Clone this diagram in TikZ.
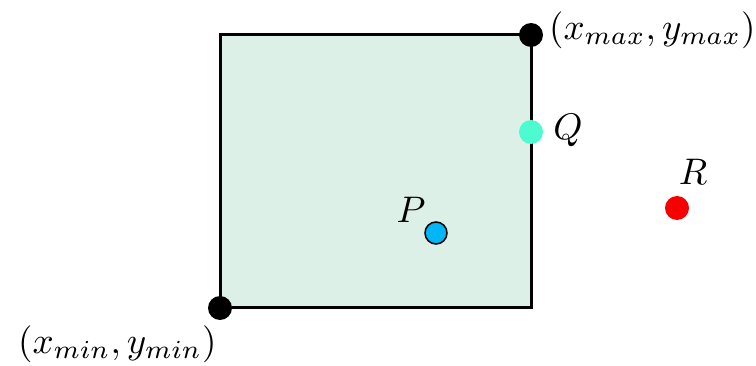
\documentclass[tikz,border=0pt]{standalone}
\usepackage{graphicx}
\usepackage{tikz}
\usetikzlibrary{positioning}
\definecolor{boxgreen}{HTML}{DDF0E7}
\definecolor{qgreen}{HTML}{4CFCD0}
\definecolor{pblue}{HTML}{00B6F4}
\definecolor{rred}{HTML}{F80000}
\newcommand{\biglbl}[1]{\scalebox{3.7}{$#1$}}
\tikzset{
  dot/.style={circle,inner sep=0pt,minimum size=24pt},
  lbl/.style={inner sep=0pt}
}
\begin{document}
\begin{tikzpicture}[x=1pt,y=-1pt]
\useasboundingbox (0,0) rectangle (756,366);
\draw[fill=boxgreen,line width=3pt] (220,35) rectangle (531,308);
\node[dot,fill=black] (pmin) at (220,308) {};
\node[dot,fill=black] (pmax) at (531,35) {};
\node[dot,fill=qgreen] (q) at (531,132) {};
\node[dot,fill=pblue,draw=black,line width=1.5pt,minimum size=22pt] (p) at (436,233) {};
\node[dot,fill=rred] (r) at (677,208) {};
\node[lbl,anchor=west] (lmax) at (549,30) {\biglbl{(x_{max},y_{max})}};
\node[lbl,anchor=west] (lmin) at (18,344) {\biglbl{(x_{min},y_{min})}};
\node[lbl] (lq) at (568,130) {\biglbl{Q}};
\node[lbl] (lp) at (411,210) {\biglbl{P}};
\node[lbl] (lr) at (693,172) {\biglbl{R}};
\end{tikzpicture}
\end{document}
